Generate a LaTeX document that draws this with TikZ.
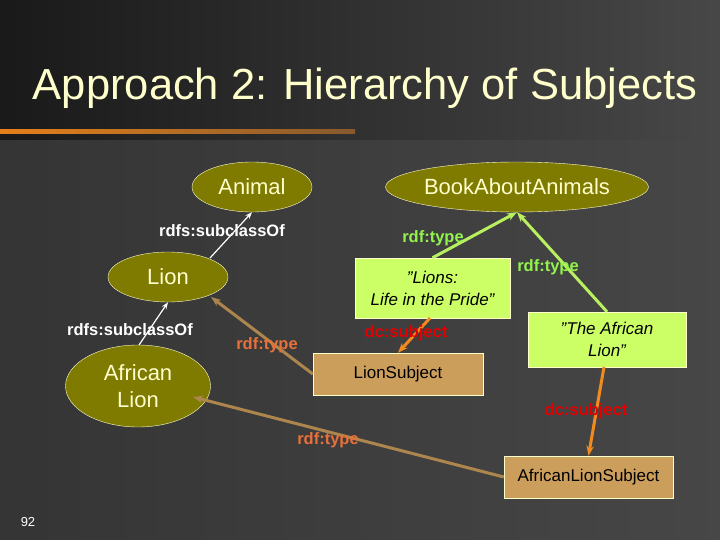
\documentclass[tikz,border=0pt]{standalone}
\usepackage{fontspec}
\setmainfont{Liberation Sans}
\usetikzlibrary{shapes.geometric,arrows.meta}
\definecolor{olive}{HTML}{7F7A00}
\definecolor{lgreen}{HTML}{CCFF66}
\definecolor{tan}{HTML}{CC9E5C}
\definecolor{arrgreen}{HTML}{B8F060}
\definecolor{orng}{HTML}{F28A1E}
\definecolor{typecol}{HTML}{E8703A}
\definecolor{titlecol}{HTML}{FFFFCC}
\tikzset{
 cls/.style={ellipse,draw=titlecol,fill=olive,text=titlecol,font=\fontsize{22}{27}\selectfont,inner sep=0pt,align=center},
 lit/.style={rectangle,draw=titlecol,fill=lgreen,font=\fontsize{17}{22}\selectfont\itshape,align=center,inner sep=0pt},
 subj/.style={rectangle,draw=titlecol,fill=tan,font=\fontsize{17}{20}\selectfont,inner sep=0pt},
 subc/.style={draw=white,line width=1.2pt,-{Stealth[length=7pt]}},
 gtype/.style={draw=arrgreen,line width=3pt,-{Stealth[length=10pt]}},
 btype/.style={draw=tan!85!black,line width=3pt,-{Stealth[length=10pt]}},
 dcs/.style={draw=orng,line width=3pt,-{Stealth[length=10pt]}},
 lab/.style={font=\fontsize{16.5}{19}\selectfont\bfseries}
}
\begin{document}
\begin{tikzpicture}[x=1pt,y=-1pt]
\shade[left color=black!90,right color=black!72] (0,0) rectangle (720,540);
\fill[black!72,opacity=0.6] (0,140) rectangle (720,540);
\useasboundingbox (0,0) rectangle (720,540);
\node[text=titlecol,font=\fontsize{43.5}{50}\selectfont] (title) at (365,88) {Approach 2: Hierarchy of Subjects};
\shade[left color=orange!60!brown,right color=brown!70!black] (0,130) rectangle (355,134);
\node[text=white,font=\fontsize{13}{15}\selectfont] (pg) at (28,522) {92};

\node[cls,minimum width=120pt,minimum height=50pt] (animal) at (252,187) {Animal};
\node[cls,minimum width=242pt,minimum height=50pt] (book) at (517,187) {BookAboutAnimals};
\node[cls,minimum width=120pt,minimum height=50pt] (lion) at (168,277) {Lion};
\node[cls,minimum width=145pt,minimum height=82pt] (alion) at (138,386) {African\\Lion};
\node[lit,minimum width=155pt,minimum height=60pt] (lbook) at (432.5,288) {"Lions:\\Life in the Pride"};
\node[lit,minimum width=158pt,minimum height=55pt] (abook) at (607,339.5) {"The African\\Lion"};
\node[subj,minimum width=170pt,minimum height=42pt] (ls) at (398,374) {LionSubject};
\node[subj,minimum width=169pt,minimum height=42pt] (als) at (588.5,477) {AfricanLionSubject};

\draw[subc] (210,258) coordinate (s1) -- (animal.south);
\node[lab,text=white] (l1) at (222,231) {rdfs:subclassOf};
\draw[subc] (139,345) coordinate (s2) -- (lion.south);
\node[lab,text=white] (l2) at (130,330) {rdfs:subclassOf};
\draw[btype] (ls.west) -- (211,297) coordinate (t3);
\node[lab,text=typecol] (l3) at (267,345) {rdf:type};
\draw[btype] (als.west) -- (193,397) coordinate (t4);
\node[lab,text=typecol] (l4) at (328,440) {rdf:type};
\draw[gtype] (lbook.north) -- (book.south);
\node[lab,text=arrgreen!80!green] (l5) at (433,238) {rdf:type};
\draw[gtype] (abook.north) -- (book.south);
\node[lab,text=arrgreen!80!green] (l6) at (548,267) {rdf:type};
\draw[dcs] (430,318) coordinate (s7) -- (ls.north);
\node[lab,text=red!90!black] (l7) at (406,333) {dc:subject};
\draw[dcs] (604,367) coordinate (s8) -- (als.north);
\node[lab,text=red!90!black] (l8) at (586,411) {dc:subject};
\end{tikzpicture}
\end{document}
